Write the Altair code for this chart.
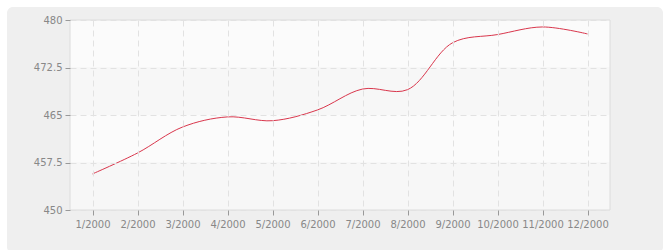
import altair as alt
import pandas as pd

months = ["1/2000", "2/2000", "3/2000", "4/2000", "5/2000", "6/2000",
          "7/2000", "8/2000", "9/2000", "10/2000", "11/2000", "12/2000"]
values = [455.7, 459.0, 463.1, 464.7, 464.1, 465.8,
          469.1, 469.0, 476.4, 477.7, 478.9, 477.8]
y_ticks = [450, 457.5, 465, 472.5, 480]
band_lo = [450, 457.5, 465, 472.5]
band_hi = [457.5, 465, 472.5, 480]
band_fill = ["#f7f7f7", "#fbfbfb", "#f7f7f7", "#fbfbfb"]

df = pd.DataFrame({"month": months, "value": values})
bands = pd.DataFrame({"lo": band_lo, "hi": band_hi, "fill": band_fill})
one = pd.DataFrame({"a": [0]})

panel = alt.Chart(one).mark_rect(
    color="#efefef", cornerRadius=6
).encode(
    x=alt.value(-63), x2=alt.value(593), y=alt.value(-13), y2=alt.value(233)
)

band_layer = alt.Chart(bands).mark_rect().encode(
    x=alt.value(0), x2=alt.value(540),
    y=alt.Y("lo:Q", scale=alt.Scale(domain=[450, 480], nice=False)),
    y2="hi:Q",
    fill=alt.Fill("fill:N", scale=None),
)

border = alt.Chart(one).mark_rect(
    fill=None, stroke="#dcdcdc", strokeWidth=1
).encode(
    x=alt.value(0), x2=alt.value(540), y=alt.value(0), y2=alt.value(190)
)

line = alt.Chart(df).mark_line(
    color="#d9364c", strokeWidth=1, interpolate="catmull-rom"
).encode(
    x=alt.X("month:O", sort=months, title=None,
            scale=alt.Scale(type="point", padding=0.5),
            axis=alt.Axis(labelAngle=0, grid=True, gridDash=[6, 4],
                          gridColor="#e2e2e2", domain=False, tickColor="#999999",
                          tickSize=5, labelPadding=4, zindex=1)),
    y=alt.Y("value:Q", title=None,
            scale=alt.Scale(domain=[450, 480], nice=False, zero=False),
            axis=alt.Axis(values=y_ticks, labelExpr="format(datum.value, '~g')",
                          grid=True, gridDash=[6, 4],
                          gridColor="#e2e2e2", domain=False, tickColor="#999999",
                          tickSize=5, labelPadding=3, zindex=1)),
)

chart = alt.layer(panel, band_layer, border, line).properties(
    width=540, height=190,
    autosize=alt.AutoSizeParams(type="none"),
    padding={"left": 70, "top": 20, "right": 60, "bottom": 40},
    background="white",
).configure_view(
    stroke=None, fill="#fafafa"
).configure_axis(
    labelFont="DejaVu Sans", labelFontSize=10, labelColor="#888888"
)

chart.save("out.html", embed_options={"renderer": "svg", "actions": False})
